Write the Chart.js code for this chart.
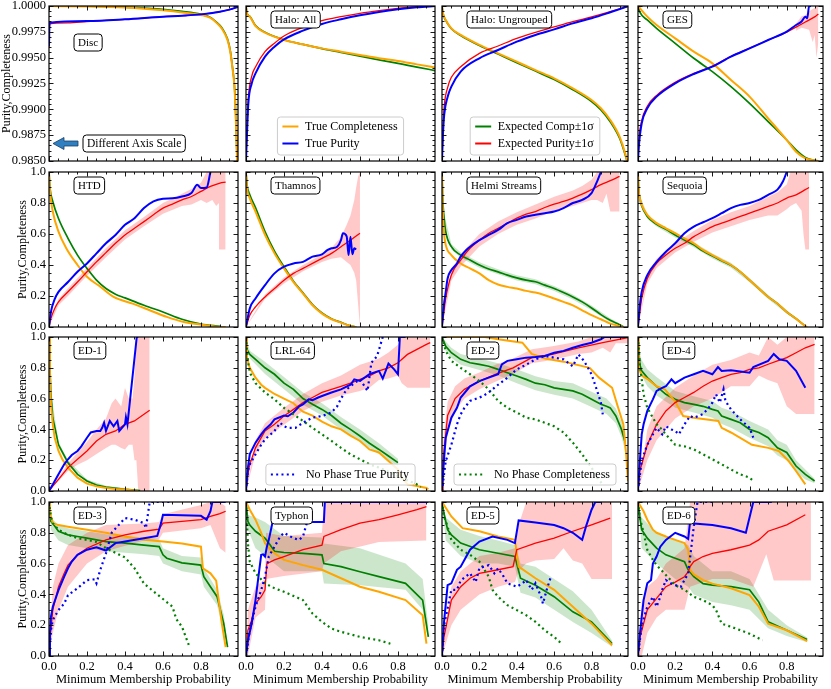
<!DOCTYPE html>
<html><head><meta charset="utf-8">
<script src="https://cdn.jsdelivr.net/npm/chart.js@4.4.0/dist/chart.umd.min.js"></script>
<style>
html,body{margin:0;padding:0;background:#fff;width:831px;height:689px;overflow:hidden;position:relative}
canvas{position:absolute}
</style></head><body>
<script>
// ---------- tick values ----------
const xMajorTicks = [0, 0.2, 0.4, 0.6, 0.8];
const xMinorTicks = [0.05,0.1,0.15,0.25,0.3,0.35,0.45,0.5,0.55,0.65,0.7,0.75,0.85,0.9,0.95];
const yMajorTicks = [0, 0.2, 0.4, 0.6, 0.8, 1.0];
const yMinorTicks = [0.05,0.1,0.15,0.25,0.3,0.35,0.45,0.5,0.55,0.65,0.7,0.75,0.85,0.9,0.95];
const yMajorTicksTop = [0.985, 0.9875, 0.99, 0.9925, 0.995, 0.9975, 1.0];
const yMinorTicksTop = [0.9855,0.986,0.9865,0.987,0.988,0.9885,0.989,0.9895,0.9905,0.991,0.9915,0.992,0.993,0.9935,0.994,0.9945,0.9955,0.996,0.9965,0.997,0.998,0.9985,0.999,0.9995];

// ---------- Disc ----------
const discOrange = [[0,1.0],[0.2,0.99995],[0.4,0.99985],[0.5,0.99974],[0.6,0.99958],[0.7,0.99938],[0.8,0.99913],[0.85,0.99885],[0.885,0.99832],[0.91,0.9978],[0.94,0.9967],[0.955,0.9955],[0.965,0.9941],[0.975,0.9925],[0.98,0.9909],[0.986,0.9877],[0.99,0.985],[0.993,0.983]];
const discGreen = [[0,1.0],[0.2,0.99998],[0.4,0.9999],[0.5,0.9998],[0.6,0.99968],[0.7,0.99948],[0.8,0.9992],[0.85,0.9989],[0.885,0.99838],[0.91,0.9979],[0.94,0.9968],[0.955,0.9956],[0.965,0.9942],[0.975,0.9926],[0.98,0.991],[0.986,0.9878],[0.99,0.985],[0.993,0.983]];
const discBlue = [[0,0.9961],[0.003,0.99839],[0.2,0.99855],[0.4,0.99871],[0.6,0.99897],[0.7,0.99906],[0.8,0.99919],[0.9,0.99945],[0.95,0.99965],[1.0,0.99994]];
const discRed = [[0,0.996],[0.003,0.99826],[0.1,0.99836],[0.2,0.99849],[0.3,0.99861],[0.4,0.99871],[0.6,0.99897],[0.7,0.99906],[0.8,0.99919],[0.9,0.99945],[0.95,0.99965],[1.0,0.99994]];

// ---------- Halo: All ----------
const haloAllOrange = [[0,1.0],[0.005,0.9993],[0.02,0.99897],[0.05,0.99806],[0.1,0.99742],[0.2,0.99671],[0.3,0.99629],[0.4,0.9959],[0.5,0.99558],[0.6,0.99526],[0.7,0.99494],[0.8,0.99468],[0.9,0.99435],[1.0,0.99403]];
const haloAllGreen = [[0,1.0],[0.005,0.9993],[0.02,0.999],[0.05,0.9981],[0.1,0.99745],[0.2,0.99673],[0.3,0.99628],[0.4,0.99588],[0.5,0.99552],[0.6,0.99515],[0.7,0.99478],[0.8,0.99445],[0.9,0.99408],[1.0,0.99374]];
const haloAllBlue = [[0,0.985],[0.005,0.9875],[0.012,0.9905],[0.03,0.9925],[0.05,0.99348],[0.1,0.9951],[0.15,0.99606],[0.2,0.99677],[0.3,0.99761],[0.4,0.99826],[0.5,0.99871],[0.6,0.9991],[0.7,0.99942],[0.8,0.99968],[0.9,0.99987],[1.0,1.0]];
const haloAllRed = [[0,0.985],[0.005,0.988],[0.012,0.991],[0.03,0.9932],[0.05,0.9941],[0.1,0.99558],[0.15,0.9964],[0.2,0.9971],[0.3,0.99794],[0.4,0.99858],[0.5,0.99897],[0.6,0.99929],[0.7,0.99955],[0.8,0.99977],[0.9,0.99994],[1.0,1.0]];

// ---------- Halo: Ungrouped ----------
const haloUngOrange = [[0,1.0],[0.005,0.9993],[0.02,0.99865],[0.05,0.99784],[0.1,0.9972],[0.2,0.99623],[0.3,0.99542],[0.4,0.99461],[0.5,0.9938],[0.6,0.993],[0.7,0.99203],[0.8,0.9909],[0.85,0.9901],[0.9,0.98897],[0.95,0.98735],[0.98,0.98574],[0.99,0.985]];
const haloUngGreen = [[0,1.0],[0.005,0.9993],[0.02,0.9986],[0.05,0.9978],[0.1,0.99715],[0.2,0.99618],[0.3,0.99535],[0.4,0.99452],[0.5,0.9937],[0.6,0.99288],[0.7,0.9919],[0.8,0.99075],[0.85,0.98995],[0.9,0.9888],[0.95,0.9872],[0.98,0.9856],[0.99,0.985]];
const haloUngBlue = [[0,0.985],[0.005,0.9875],[0.012,0.9895],[0.03,0.9912],[0.05,0.9922],[0.1,0.99365],[0.2,0.99494],[0.3,0.99574],[0.4,0.99655],[0.5,0.9972],[0.6,0.99774],[0.7,0.99832],[0.8,0.99881],[0.9,0.99939],[1.0,1.0]];
const haloUngRed = [[0,0.985],[0.005,0.988],[0.012,0.9903],[0.03,0.9921],[0.05,0.9931],[0.1,0.99413],[0.2,0.99542],[0.3,0.99613],[0.4,0.99687],[0.5,0.99745],[0.6,0.99797],[0.7,0.99848],[0.8,0.99894],[0.9,0.99945],[1.0,1.0]];

// ---------- GES ----------
const gesOrange = [[0,1.0],[0.05,0.99897],[0.1,0.99816],[0.2,0.99687],[0.3,0.99558],[0.4,0.99445],[0.5,0.99284],[0.6,0.99123],[0.7,0.98913],[0.8,0.98703],[0.85,0.9859],[0.9,0.98526],[0.95,0.98506],[0.97,0.985]];
const gesGreen = [[0,1.0],[0.01,0.9994],[0.05,0.99865],[0.1,0.99784],[0.2,0.99639],[0.3,0.99494],[0.4,0.99365],[0.5,0.9922],[0.6,0.99058],[0.7,0.98881],[0.8,0.98703],[0.85,0.98607],[0.9,0.98534],[0.95,0.98506],[0.97,0.985]];
const gesBlue = [[0,0.985],[0.005,0.9865],[0.02,0.98865],[0.05,0.9901],[0.1,0.99123],[0.2,0.99252],[0.3,0.99342],[0.4,0.99413],[0.5,0.9951],[0.6,0.9959],[0.7,0.99671],[0.8,0.99752],[0.85,0.99816],[0.88,0.9985],[0.9,0.99897],[0.91,0.9988],[0.92,0.99994],[0.93,1.0]];
const gesRed = [[0,0.985],[0.005,0.987],[0.02,0.9889],[0.05,0.9903],[0.1,0.99135],[0.2,0.99262],[0.3,0.99348],[0.4,0.99418],[0.5,0.99512],[0.6,0.99592],[0.7,0.99671],[0.8,0.99748],[0.85,0.99795],[0.9,0.99845],[0.95,0.99895],[0.97,0.99923]];
const gesRedBand = [[0.85,0.9976,0.9983],[0.88,0.9979,0.999],[0.9,0.9978,0.9991],[0.92,0.9977,0.9995],[0.94,0.9965,0.9997],[0.95,0.9972,0.9998],[0.96,0.995,1.0],[0.97,0.9965,1.0]];

// ---------- HTD ----------
const htdOrange = [[0,1.0],[0.005,0.88],[0.02,0.745],[0.05,0.615],[0.09,0.51],[0.15,0.4],[0.2,0.324],[0.27,0.26],[0.34,0.194],[0.44,0.151],[0.53,0.108],[0.62,0.065],[0.71,0.032],[0.8,0.015],[0.885,0.002],[0.93,0]];
const htdGreen = [[0,1.0],[0.005,0.9],[0.02,0.81],[0.05,0.7],[0.1,0.572],[0.15,0.464],[0.2,0.378],[0.25,0.302],[0.3,0.248],[0.35,0.212],[0.4,0.188],[0.5,0.14],[0.6,0.097],[0.7,0.05],[0.8,0.019],[0.9,0.004]];
const htdBlue = [[0,0],[0.01,0.097],[0.03,0.18],[0.05,0.227],[0.1,0.29],[0.15,0.356],[0.2,0.41],[0.25,0.475],[0.3,0.54],[0.35,0.594],[0.4,0.659],[0.45,0.702],[0.5,0.767],[0.55,0.81],[0.6,0.827],[0.65,0.83],[0.7,0.842],[0.75,0.864],[0.78,0.918],[0.8,0.896],[0.83,0.9],[0.85,1.0]];
const htdRed = [[0,0],[0.01,0.054],[0.03,0.12],[0.05,0.162],[0.1,0.227],[0.15,0.29],[0.2,0.356],[0.25,0.42],[0.3,0.48],[0.35,0.54],[0.4,0.594],[0.45,0.637],[0.5,0.68],[0.55,0.724],[0.6,0.767],[0.65,0.793],[0.7,0.82],[0.75,0.842],[0.8,0.875],[0.85,0.907],[0.9,0.929],[0.93,0.935]];
const htdRedBand = [[0,0,0],[0.05,0.14,0.18],[0.1,0.2,0.25],[0.2,0.33,0.38],[0.3,0.45,0.51],[0.4,0.565,0.625],[0.5,0.65,0.71],[0.6,0.73,0.8],[0.7,0.78,0.86],[0.75,0.79,0.89],[0.8,0.82,0.93],[0.83,0.8,1.0],[0.86,0.82,1.0],[0.88,0.78,1.0],[0.895,0.8,1.0],[0.9,0.5,1.0],[0.93,0.5,1.0]];

// ---------- Thamnos ----------
const thamOrange = [[0,1.0],[0.005,0.9],[0.02,0.83],[0.05,0.745],[0.1,0.594],[0.15,0.475],[0.2,0.378],[0.25,0.29],[0.3,0.216],[0.35,0.14],[0.4,0.086],[0.45,0.05],[0.5,0.028],[0.55,0.006],[0.58,0]];
const thamGreen = [[0,1.0],[0.005,0.92],[0.02,0.853],[0.05,0.77],[0.1,0.616],[0.15,0.49],[0.2,0.389],[0.25,0.295],[0.3,0.22],[0.35,0.145],[0.4,0.09],[0.45,0.053],[0.5,0.03],[0.55,0.008],[0.58,0.001]];
const thamBlue = [[0,0],[0.02,0.12],[0.05,0.184],[0.1,0.27],[0.15,0.346],[0.2,0.389],[0.25,0.41],[0.3,0.42],[0.35,0.454],[0.4,0.469],[0.43,0.497],[0.45,0.508],[0.48,0.518],[0.5,0.56],[0.51,0.605],[0.53,0.585],[0.54,0.464],[0.55,0.583],[0.56,0.47],[0.57,0.508],[0.58,0.5]];
const thamRed = [[0,0],[0.02,0.076],[0.05,0.13],[0.1,0.194],[0.15,0.248],[0.2,0.302],[0.25,0.346],[0.3,0.378],[0.35,0.41],[0.4,0.443],[0.45,0.475],[0.5,0.518],[0.55,0.56],[0.6,0.605]];
const thamRedBand = [[0,0,0],[0.1,0.18,0.21],[0.2,0.28,0.32],[0.3,0.36,0.4],[0.4,0.42,0.47],[0.45,0.44,0.51],[0.5,0.45,0.58],[0.53,0.42,0.66],[0.55,0.4,0.72],[0.57,0.35,0.82],[0.58,0.3,0.9],[0.59,0.15,0.97],[0.6,0,1.0]];

// ---------- Helmi Streams ----------
const helmiOrange = [[0,1.0],[0.003,0.8],[0.01,0.616],[0.02,0.53],[0.05,0.464],[0.1,0.41],[0.15,0.378],[0.2,0.346],[0.25,0.302],[0.3,0.274],[0.35,0.259],[0.4,0.248],[0.45,0.233],[0.5,0.222],[0.55,0.205],[0.6,0.184],[0.65,0.162],[0.7,0.14],[0.75,0.108],[0.8,0.076],[0.85,0.05],[0.9,0.022],[0.95,0.006],[0.97,0]];
const helmiGreen = [[0,1.0],[0.003,0.85],[0.01,0.72],[0.02,0.616],[0.05,0.518],[0.1,0.464],[0.15,0.432],[0.2,0.4],[0.25,0.374],[0.3,0.356],[0.35,0.335],[0.4,0.317],[0.45,0.302],[0.5,0.292],[0.55,0.27],[0.6,0.248],[0.65,0.222],[0.7,0.194],[0.75,0.162],[0.8,0.123],[0.85,0.08],[0.9,0.043],[0.95,0.015],[0.97,0.002]];
const helmiGreenBand = [[0.01,0.7,0.74],[0.05,0.5,0.535],[0.1,0.447,0.48],[0.2,0.383,0.417],[0.3,0.34,0.372],[0.4,0.3,0.334],[0.5,0.276,0.308],[0.6,0.232,0.264],[0.7,0.178,0.21],[0.8,0.108,0.138],[0.9,0.03,0.056],[0.97,0,0.006]];
const helmiBlue = [[0,0],[0.01,0.14],[0.02,0.227],[0.03,0.313],[0.05,0.367],[0.08,0.41],[0.1,0.454],[0.13,0.497],[0.15,0.518],[0.2,0.56],[0.25,0.594],[0.3,0.626],[0.35,0.67],[0.4,0.691],[0.45,0.713],[0.5,0.724],[0.55,0.734],[0.6,0.745],[0.65,0.767],[0.7,0.8],[0.75,0.82],[0.8,0.864],[0.83,0.94],[0.85,1.0]];
const helmiRed = [[0,0],[0.01,0.097],[0.02,0.184],[0.05,0.335],[0.1,0.432],[0.15,0.508],[0.2,0.56],[0.25,0.605],[0.3,0.637],[0.35,0.67],[0.4,0.702],[0.45,0.728],[0.5,0.745],[0.55,0.771],[0.6,0.793],[0.65,0.81],[0.7,0.832],[0.75,0.857],[0.8,0.886],[0.85,0.918],[0.9,0.944],[0.95,0.972]];
const helmiRedBand = [[0,0,0],[0.05,0.3,0.37],[0.1,0.39,0.47],[0.2,0.52,0.6],[0.3,0.6,0.68],[0.4,0.66,0.74],[0.5,0.7,0.79],[0.6,0.75,0.84],[0.7,0.78,0.88],[0.75,0.8,0.91],[0.8,0.82,0.95],[0.83,0.82,1.0],[0.86,0.8,1.0],[0.88,0.86,1.0],[0.9,0.745,1.0],[0.95,0.745,1.0]];

// ---------- Sequoia ----------
const seqOrange = [[0,1.0],[0.003,0.9],[0.01,0.83],[0.02,0.788],[0.05,0.724],[0.1,0.67],[0.15,0.637],[0.2,0.605],[0.25,0.572],[0.3,0.54],[0.35,0.497],[0.4,0.464],[0.45,0.432],[0.5,0.4],[0.55,0.356],[0.6,0.302],[0.65,0.248],[0.7,0.194],[0.75,0.151],[0.8,0.097],[0.85,0.054],[0.9,0.006],[0.91,0]];
const seqGreen = [[0,1.0],[0.003,0.9],[0.01,0.83],[0.02,0.78],[0.05,0.713],[0.1,0.663],[0.15,0.63],[0.2,0.594],[0.25,0.562],[0.3,0.53],[0.35,0.49],[0.4,0.458],[0.45,0.428],[0.5,0.398],[0.55,0.356],[0.6,0.302],[0.65,0.248],[0.7,0.194],[0.75,0.151],[0.8,0.097],[0.85,0.054],[0.9,0.006]];
const seqGreenBand = [[0.01,0.81,0.85],[0.05,0.698,0.728],[0.1,0.648,0.678],[0.2,0.578,0.61],[0.3,0.514,0.546],[0.4,0.442,0.474],[0.5,0.382,0.414],[0.6,0.288,0.316],[0.7,0.18,0.208],[0.8,0.085,0.109],[0.9,0,0.012]];
const seqBlue = [[0,0],[0.01,0.14],[0.02,0.227],[0.05,0.335],[0.1,0.42],[0.15,0.486],[0.2,0.54],[0.25,0.605],[0.3,0.648],[0.35,0.676],[0.4,0.702],[0.45,0.734],[0.5,0.767],[0.55,0.788],[0.6,0.8],[0.65,0.82],[0.7,0.853],[0.75,0.886],[0.78,0.94],[0.8,1.0]];
const seqRed = [[0,0],[0.01,0.097],[0.02,0.184],[0.05,0.313],[0.1,0.41],[0.15,0.464],[0.2,0.508],[0.25,0.54],[0.3,0.583],[0.35,0.616],[0.4,0.648],[0.45,0.67],[0.5,0.691],[0.55,0.713],[0.6,0.734],[0.65,0.756],[0.7,0.778],[0.75,0.8],[0.8,0.832],[0.85,0.853],[0.9,0.886],[0.92,0.9]];
const seqRedBand = [[0,0,0],[0.05,0.28,0.34],[0.1,0.38,0.44],[0.2,0.48,0.54],[0.3,0.55,0.62],[0.4,0.61,0.69],[0.5,0.65,0.74],[0.6,0.69,0.78],[0.7,0.72,0.84],[0.75,0.72,0.87],[0.8,0.76,0.92],[0.82,0.78,1.0],[0.85,0.8,1.0],[0.88,0.75,1.0],[0.89,0.6,1.0],[0.9,0.5,1.0],[0.92,0.5,1.0]];

// ---------- ED-1 ----------
const ed1Orange = [[0,1.0],[0.005,0.736],[0.01,0.563],[0.02,0.433],[0.03,0.346],[0.05,0.26],[0.07,0.206],[0.1,0.152],[0.15,0.087],[0.2,0.048],[0.25,0.03],[0.3,0.019],[0.35,0.013],[0.4,0.009],[0.45,0.004],[0.47,0]];
const ed1Green = [[0,1.0],[0.005,0.8],[0.01,0.63],[0.02,0.476],[0.05,0.3],[0.1,0.184],[0.15,0.108],[0.2,0.065],[0.25,0.039],[0.3,0.026],[0.4,0.011],[0.48,0.003]];
const ed1GreenBand = [[0.01,0.61,0.65],[0.05,0.28,0.32],[0.1,0.17,0.2],[0.2,0.055,0.075],[0.3,0.018,0.034],[0.48,0,0.006]];
const ed1Blue = [[0,0],[0.02,0.043],[0.05,0.108],[0.08,0.173],[0.1,0.206],[0.12,0.234],[0.15,0.26],[0.17,0.29],[0.2,0.346],[0.22,0.38],[0.25,0.39],[0.27,0.39],[0.28,0.41],[0.29,0.443],[0.3,0.39],[0.32,0.455],[0.34,0.42],[0.36,0.455],[0.37,0.39],[0.4,0.433],[0.405,0.48],[0.413,0.433],[0.462,1.0],[0.47,1.0]];
const ed1Red = [[0,0],[0.02,0.032],[0.05,0.076],[0.1,0.152],[0.15,0.206],[0.2,0.26],[0.25,0.325],[0.3,0.368],[0.35,0.39],[0.4,0.433],[0.45,0.455],[0.5,0.498],[0.53,0.524]];
const ed1RedBand = [[0,0,0],[0.1,0.13,0.18],[0.15,0.17,0.25],[0.2,0.2,0.32],[0.25,0.24,0.4],[0.3,0.28,0.47],[0.33,0.3,0.57],[0.35,0.3,0.6],[0.38,0.28,0.55],[0.4,0.27,0.67],[0.42,0.3,0.6],[0.44,0.3,0.6],[0.45,0.2,0.75],[0.46,0.2,1.0],[0.47,0,1.0],[0.53,0,1.0]];

// ---------- LRL-64 ----------
const lrlOrange = [[0,1.0],[0.005,0.87],[0.015,0.82],[0.02,0.8],[0.05,0.736],[0.08,0.69],[0.1,0.67],[0.15,0.63],[0.2,0.6],[0.25,0.57],[0.28,0.536],[0.3,0.515],[0.35,0.49],[0.4,0.45],[0.45,0.42],[0.5,0.4],[0.55,0.36],[0.6,0.325],[0.65,0.27],[0.7,0.25],[0.75,0.195],[0.8,0.14],[0.82,0.087],[0.85,0.043],[0.9,0.032],[0.95,0.02],[0.96,0.011]];
const lrlGreen = [[0,1.0],[0.005,0.92],[0.02,0.887],[0.05,0.855],[0.1,0.8],[0.15,0.758],[0.2,0.7],[0.25,0.66],[0.3,0.6],[0.35,0.563],[0.4,0.53],[0.45,0.49],[0.5,0.44],[0.55,0.4],[0.6,0.357],[0.65,0.31],[0.7,0.27],[0.75,0.227],[0.8,0.184]];
const lrlGreenBand = [[0,1,1],[0.02,0.86,0.91],[0.1,0.76,0.84],[0.2,0.66,0.74],[0.3,0.56,0.64],[0.4,0.49,0.57],[0.5,0.4,0.48],[0.6,0.32,0.4],[0.7,0.24,0.31],[0.8,0.16,0.21]];
const lrlBlue = [[0,0],[0.01,0.15],[0.02,0.24],[0.05,0.314],[0.08,0.368],[0.1,0.4],[0.13,0.433],[0.15,0.465],[0.2,0.49],[0.22,0.485],[0.25,0.51],[0.28,0.55],[0.3,0.563],[0.33,0.595],[0.35,0.59],[0.38,0.607],[0.4,0.617],[0.45,0.64],[0.5,0.66],[0.55,0.69],[0.57,0.725],[0.6,0.715],[0.65,0.758],[0.7,0.78],[0.72,0.73],[0.75,0.827],[0.78,0.79],[0.8,0.758],[0.81,1.0],[0.84,1.0]];
const lrlRed = [[0,0],[0.01,0.11],[0.02,0.173],[0.05,0.28],[0.1,0.39],[0.15,0.433],[0.2,0.487],[0.25,0.53],[0.3,0.574],[0.35,0.607],[0.4,0.64],[0.45,0.66],[0.5,0.68],[0.55,0.7],[0.6,0.725],[0.65,0.747],[0.7,0.78],[0.75,0.8],[0.8,0.833],[0.85,0.887],[0.9,0.92],[0.95,0.952],[0.97,0.963]];
const lrlRedBand = [[0,0,0],[0.05,0.24,0.33],[0.1,0.34,0.44],[0.2,0.43,0.54],[0.3,0.52,0.63],[0.4,0.58,0.7],[0.5,0.62,0.75],[0.6,0.65,0.82],[0.65,0.67,0.84],[0.7,0.72,0.86],[0.75,0.73,0.9],[0.8,0.75,0.95],[0.82,0.7,1.0],[0.85,0.67,1.0],[0.97,0.67,1.0]];
const lrlBlueDot = [[0,0],[0.01,0.13],[0.02,0.173],[0.05,0.238],[0.08,0.3],[0.1,0.335],[0.15,0.39],[0.18,0.443],[0.2,0.42],[0.22,0.41],[0.26,0.41],[0.3,0.443],[0.35,0.476],[0.4,0.487],[0.45,0.51],[0.48,0.55],[0.5,0.6],[0.53,0.66],[0.57,0.7],[0.6,0.725],[0.64,0.65],[0.66,0.833],[0.69,0.876],[0.72,1.0]];
const lrlGreenDot = [[0,1],[0.01,0.845],[0.02,0.77],[0.05,0.7],[0.1,0.64],[0.15,0.595],[0.2,0.54],[0.25,0.498],[0.3,0.455],[0.35,0.41],[0.4,0.368],[0.45,0.325],[0.5,0.28],[0.55,0.238],[0.6,0.206],[0.65,0.173],[0.7,0.152],[0.75,0.125],[0.8,0.097],[0.85,0.069],[0.9,0.043],[0.92,0.026]];

// ---------- ED-2 ----------
const ed2Orange = [[0,1.0],[0.23,1.0],[0.3,0.985],[0.43,0.963],[0.48,0.89],[0.55,0.86],[0.65,0.84],[0.79,0.8],[0.84,0.736],[0.91,0.67],[0.94,0.55],[0.97,0.433],[0.985,0.24],[0.995,0.065]];
const ed2Green = [[0,1.0],[0.02,0.94],[0.05,0.898],[0.1,0.855],[0.15,0.833],[0.2,0.822],[0.25,0.81],[0.3,0.79],[0.35,0.768],[0.4,0.747],[0.45,0.725],[0.5,0.7],[0.55,0.69],[0.6,0.67],[0.65,0.66],[0.7,0.65],[0.75,0.628],[0.8,0.595],[0.85,0.563],[0.88,0.55],[0.9,0.54],[0.93,0.487],[0.96,0.4],[0.98,0.314]];
const ed2GreenBand = [[0,1,1],[0.02,0.91,0.97],[0.05,0.865,0.93],[0.1,0.82,0.89],[0.2,0.785,0.86],[0.3,0.75,0.83],[0.4,0.7,0.79],[0.5,0.655,0.745],[0.6,0.625,0.715],[0.7,0.6,0.7],[0.8,0.545,0.645],[0.88,0.5,0.6],[0.93,0.44,0.535],[0.96,0.35,0.45],[0.98,0.26,0.37]];
const ed2Blue = [[0,0],[0.01,0.195],[0.02,0.346],[0.05,0.476],[0.08,0.54],[0.1,0.607],[0.15,0.68],[0.2,0.714],[0.25,0.736],[0.3,0.758],[0.32,0.822],[0.35,0.845],[0.4,0.855],[0.45,0.866],[0.5,0.87],[0.55,0.877],[0.6,0.898],[0.65,0.91],[0.7,0.93],[0.75,0.948],[0.8,0.963],[0.85,0.985],[0.87,1.0],[0.99,1.0]];
const ed2Red = [[0,0],[0.005,0.19],[0.03,0.49],[0.07,0.6],[0.12,0.66],[0.2,0.714],[0.285,0.758],[0.38,0.8],[0.48,0.866],[0.59,0.887],[0.73,0.93],[0.86,0.963],[0.995,0.996]];
const ed2RedBand = [[0,0,0],[0.005,0.1,0.3],[0.03,0.38,0.58],[0.07,0.52,0.68],[0.12,0.6,0.73],[0.2,0.66,0.77],[0.285,0.71,0.82],[0.38,0.76,0.86],[0.48,0.83,0.92],[0.59,0.85,0.94],[0.73,0.89,0.97],[0.8,0.9,1.0],[0.86,0.93,1.0],[0.9,0.9,1.0],[0.93,0.96,1.0],[0.995,0.96,1.0]];
const ed2BlueDot = [[0,0],[0.02,0.195],[0.05,0.3],[0.08,0.433],[0.1,0.498],[0.12,0.54],[0.15,0.585],[0.2,0.607],[0.22,0.617],[0.25,0.64],[0.3,0.69],[0.35,0.736],[0.4,0.79],[0.45,0.82],[0.5,0.855],[0.55,0.877],[0.6,0.866],[0.65,0.855],[0.7,0.81],[0.73,0.887],[0.76,0.845],[0.8,0.758],[0.83,0.65],[0.85,0.574],[0.86,0.498]];
const ed2GreenDot = [[0,1],[0.01,0.96],[0.02,0.91],[0.05,0.845],[0.1,0.8],[0.15,0.758],[0.2,0.714],[0.25,0.66],[0.3,0.585],[0.35,0.54],[0.4,0.51],[0.45,0.476],[0.5,0.465],[0.55,0.443],[0.6,0.42],[0.65,0.38],[0.7,0.314],[0.75,0.238],[0.8,0.152],[0.83,0.087],[0.86,0.043]];

// ---------- ED-4 ----------
const ed4Orange = [[0,1.0],[0.004,0.8],[0.02,0.75],[0.054,0.725],[0.1,0.68],[0.144,0.66],[0.198,0.584],[0.243,0.487],[0.3,0.476],[0.35,0.468],[0.432,0.455],[0.45,0.41],[0.5,0.38],[0.613,0.3],[0.7,0.28],[0.757,0.26],[0.81,0.195],[0.85,0.13],[0.9,0.043]];
const ed4Green = [[0,1.0],[0.01,0.82],[0.02,0.78],[0.05,0.736],[0.1,0.68],[0.15,0.628],[0.2,0.595],[0.25,0.574],[0.3,0.563],[0.35,0.55],[0.4,0.53],[0.43,0.52],[0.45,0.487],[0.5,0.465],[0.55,0.443],[0.6,0.4],[0.65,0.38],[0.7,0.346],[0.75,0.28],[0.8,0.25],[0.85,0.162],[0.9,0.108],[0.95,0.065]];
const ed4GreenBand = [[0,1,1],[0.01,0.77,0.87],[0.05,0.68,0.79],[0.1,0.62,0.74],[0.2,0.54,0.65],[0.3,0.51,0.615],[0.4,0.475,0.585],[0.45,0.435,0.54],[0.5,0.41,0.52],[0.6,0.345,0.455],[0.7,0.29,0.4],[0.75,0.23,0.33],[0.8,0.2,0.3],[0.85,0.12,0.2],[0.9,0.075,0.14],[0.95,0.05,0.08]];
const ed4Blue = [[0,0],[0.01,0.195],[0.02,0.368],[0.03,0.433],[0.05,0.52],[0.08,0.595],[0.1,0.65],[0.13,0.67],[0.15,0.68],[0.18,0.725],[0.2,0.7],[0.25,0.736],[0.3,0.758],[0.35,0.78],[0.4,0.758],[0.43,0.805],[0.45,0.78],[0.5,0.784],[0.6,0.768],[0.62,0.805],[0.7,0.845],[0.73,0.89],[0.76,0.855],[0.8,0.845],[0.85,0.78],[0.9,0.67]];
const ed4Red = [[0,0],[0.01,0.13],[0.05,0.3],[0.1,0.433],[0.15,0.52],[0.2,0.574],[0.25,0.607],[0.3,0.64],[0.35,0.68],[0.4,0.714],[0.45,0.736],[0.5,0.758],[0.55,0.768],[0.6,0.79],[0.65,0.8],[0.7,0.823],[0.75,0.845],[0.8,0.866],[0.85,0.898],[0.9,0.93],[0.95,0.952]];
const ed4RedBand = [[0,0,0],[0.05,0.2,0.4],[0.1,0.33,0.55],[0.2,0.47,0.67],[0.3,0.55,0.75],[0.4,0.6,0.82],[0.5,0.68,0.85],[0.6,0.68,0.9],[0.65,0.75,0.88],[0.7,0.72,1.0],[0.75,0.7,0.95],[0.8,0.55,1.0],[0.85,0.5,1.0],[0.95,0.5,1.0]];
const ed4BlueDot = [[0,0],[0.02,0.2],[0.05,0.3],[0.08,0.368],[0.1,0.41],[0.13,0.368],[0.15,0.42],[0.18,0.4],[0.2,0.39],[0.22,0.368],[0.25,0.433],[0.28,0.487],[0.3,0.476],[0.35,0.5],[0.38,0.54],[0.4,0.574],[0.42,0.628],[0.44,0.574],[0.46,0.66],[0.47,0.585],[0.5,0.53],[0.55,0.465],[0.6,0.41],[0.62,0.346]];
const ed4GreenDot = [[0,1],[0.01,0.82],[0.03,0.628],[0.05,0.54],[0.08,0.476],[0.1,0.433],[0.12,0.41],[0.15,0.368],[0.2,0.3],[0.25,0.29],[0.3,0.27],[0.35,0.238],[0.4,0.206],[0.45,0.173],[0.5,0.14],[0.55,0.108],[0.6,0.087],[0.62,0.065]];

// ---------- ED-3 ----------
const ed3Orange = [[0,1.0],[0.005,0.95],[0.01,0.906],[0.02,0.863],[0.05,0.85],[0.1,0.84],[0.2,0.82],[0.3,0.8],[0.4,0.776],[0.5,0.755],[0.6,0.743],[0.7,0.73],[0.8,0.71],[0.81,0.57],[0.85,0.537],[0.88,0.49],[0.91,0.21],[0.93,0.058]];
const ed3Green = [[0,1.0],[0.005,0.93],[0.01,0.874],[0.02,0.86],[0.05,0.81],[0.1,0.787],[0.15,0.776],[0.2,0.765],[0.3,0.743],[0.4,0.733],[0.5,0.72],[0.58,0.71],[0.6,0.657],[0.62,0.635],[0.7,0.605],[0.8,0.59],[0.815,0.515],[0.85,0.45],[0.885,0.385],[0.92,0.21],[0.94,0.058]];
const ed3GreenBand = [[0,1,1],[0.01,0.82,0.9],[0.05,0.75,0.85],[0.1,0.72,0.83],[0.2,0.7,0.81],[0.3,0.68,0.79],[0.4,0.67,0.78],[0.5,0.66,0.77],[0.58,0.65,0.76],[0.6,0.6,0.7],[0.7,0.55,0.65],[0.8,0.53,0.64],[0.815,0.45,0.57],[0.85,0.39,0.5],[0.885,0.33,0.43],[0.92,0.15,0.27],[0.94,0.04,0.08]];
const ed3Blue = [[0,0],[0.005,0.15],[0.01,0.254],[0.02,0.32],[0.05,0.428],[0.08,0.515],[0.1,0.57],[0.12,0.613],[0.15,0.657],[0.2,0.69],[0.25,0.706],[0.3,0.685],[0.35,0.733],[0.4,0.743],[0.5,0.765],[0.57,0.78],[0.59,0.863],[0.6,0.917],[0.8,0.91],[0.83,0.885],[0.85,0.94],[0.86,1.0],[0.93,1.0]];
const ed3Red = [[0,0],[0.005,0.12],[0.01,0.167],[0.02,0.3],[0.05,0.45],[0.08,0.537],[0.1,0.59],[0.15,0.657],[0.2,0.7],[0.3,0.754],[0.4,0.787],[0.5,0.81],[0.58,0.824],[0.6,0.863],[0.7,0.874],[0.8,0.885],[0.85,0.906],[0.9,0.924],[0.93,0.94]];
const ed3RedBand = [[0,0,0],[0.02,0.15,0.45],[0.05,0.3,0.6],[0.1,0.45,0.72],[0.2,0.6,0.8],[0.3,0.68,0.85],[0.5,0.75,0.86],[0.58,0.76,0.87],[0.6,0.8,0.92],[0.8,0.83,0.98],[0.85,0.85,1.0],[0.9,0.7,1.0],[0.93,0.67,0.97]];
const ed3BlueDot = [[0,0],[0.01,0.167],[0.02,0.233],[0.05,0.298],[0.08,0.34],[0.1,0.395],[0.15,0.44],[0.2,0.493],[0.24,0.498],[0.25,0.472],[0.27,0.56],[0.3,0.667],[0.33,0.8],[0.4,0.896],[0.45,0.885],[0.5,0.863],[0.51,0.83],[0.53,1.0],[0.65,1.0]];
const ed3GreenDot = [[0,1],[0.01,0.906],[0.02,0.863],[0.05,0.82],[0.1,0.787],[0.15,0.765],[0.2,0.754],[0.25,0.74],[0.3,0.7],[0.4,0.64],[0.45,0.57],[0.5,0.47],[0.55,0.42],[0.6,0.37],[0.65,0.32],[0.67,0.24],[0.7,0.19],[0.72,0.124],[0.74,0.058]];

// ---------- Typhon ----------
const typhonOrange = [[0,1.0],[0.02,0.95],[0.05,0.885],[0.08,0.8],[0.1,0.733],[0.13,0.69],[0.15,0.667],[0.2,0.624],[0.3,0.59],[0.4,0.56],[0.5,0.505],[0.6,0.45],[0.7,0.417],[0.84,0.363],[0.93,0.265],[0.95,0.08]];
const typhonGreen = [[0,1.0],[0.01,0.874],[0.02,0.85],[0.05,0.81],[0.1,0.765],[0.12,0.733],[0.15,0.68],[0.2,0.672],[0.3,0.667],[0.4,0.657],[0.41,0.6],[0.5,0.58],[0.6,0.547],[0.7,0.515],[0.84,0.472],[0.93,0.363],[0.96,0.124]];
const typhonGreenBand = [[0,0.85,0.92],[0.05,0.7,0.9],[0.1,0.65,0.87],[0.2,0.55,0.78],[0.4,0.55,0.77],[0.41,0.47,0.73],[0.6,0.46,0.7],[0.84,0.43,0.6],[0.93,0.3,0.5],[0.96,0.1,0.2]];
const typhonBlue = [[0,0],[0.01,0.1],[0.03,0.21],[0.05,0.363],[0.07,0.56],[0.08,0.657],[0.09,0.66],[0.1,0.646],[0.11,0.71],[0.12,0.754],[0.14,0.87],[0.41,0.87],[0.415,1.0],[0.96,1.0]];
const typhonRed = [[0,0],[0.01,0.167],[0.03,0.233],[0.05,0.34],[0.08,0.385],[0.1,0.428],[0.11,0.6],[0.15,0.624],[0.2,0.646],[0.3,0.69],[0.4,0.72],[0.41,0.776],[0.5,0.82],[0.6,0.863],[0.7,0.885],[0.8,0.917],[0.9,0.95],[0.95,0.97]];
const typhonRedBand = [[0,0,0],[0.01,0,0.3],[0.05,0.25,0.45],[0.1,0.3,0.5],[0.105,0.5,0.8],[0.2,0.52,0.78],[0.4,0.55,0.8],[0.41,0.6,1.0],[0.5,0.68,1.0],[0.7,0.74,1.0],[0.95,0.75,1.0]];
const typhonBlueDot = [[0,0],[0.02,0.167],[0.05,0.32],[0.08,0.428],[0.1,0.515],[0.12,0.646],[0.15,0.71],[0.18,0.776],[0.2,0.8],[0.25,0.765],[0.28,0.754],[0.3,0.776],[0.32,0.863],[0.33,0.97]];
const typhonGreenDot = [[0,1],[0.01,0.733],[0.02,0.613],[0.05,0.537],[0.1,0.472],[0.15,0.44],[0.2,0.417],[0.3,0.363],[0.35,0.276],[0.4,0.222],[0.45,0.178],[0.5,0.157],[0.6,0.124],[0.7,0.102],[0.76,0.08]];

// ---------- ED-5 ----------
const ed5Orange = [[0,1.0],[0.05,0.906],[0.11,0.83],[0.2,0.81],[0.3,0.776],[0.39,0.754],[0.41,0.58],[0.5,0.505],[0.6,0.43],[0.7,0.32],[0.8,0.21],[0.91,0.07]];
const ed5Green = [[0,1.0],[0.01,0.93],[0.03,0.82],[0.05,0.787],[0.1,0.733],[0.2,0.69],[0.3,0.667],[0.39,0.646],[0.42,0.505],[0.5,0.46],[0.6,0.385],[0.7,0.287],[0.8,0.222],[0.91,0.08]];
const ed5GreenBand = [[0,1,1],[0.02,0.75,0.9],[0.1,0.65,0.82],[0.2,0.6,0.78],[0.3,0.6,0.75],[0.39,0.58,0.72],[0.42,0.41,0.6],[0.5,0.38,0.58],[0.6,0.3,0.5],[0.7,0.22,0.42],[0.8,0.15,0.3],[0.91,0.06,0.1]];
const ed5Blue = [[0,0],[0.01,0.21],[0.03,0.46],[0.05,0.472],[0.08,0.56],[0.1,0.58],[0.15,0.69],[0.2,0.743],[0.27,0.776],[0.35,0.754],[0.39,0.733],[0.41,0.88],[0.5,0.867],[0.6,0.85],[0.65,0.83],[0.7,0.8],[0.75,0.754],[0.77,0.84],[0.8,0.95],[0.82,1.0],[0.85,1.0]];
const ed5Red = [[0,0],[0.01,0.12],[0.05,0.363],[0.1,0.45],[0.15,0.505],[0.2,0.537],[0.3,0.56],[0.38,0.58],[0.4,0.69],[0.5,0.733],[0.6,0.765],[0.7,0.81],[0.8,0.852],[0.9,0.896]];
const ed5RedBand = [[0,0,0],[0.05,0.2,0.45],[0.1,0.3,0.55],[0.2,0.4,0.65],[0.3,0.45,0.67],[0.39,0.48,0.7],[0.41,0.55,0.85],[0.45,0.6,1.0],[0.5,0.62,1.0],[0.6,0.63,1.0],[0.65,0.7,1.0],[0.7,0.62,1.0],[0.75,0.6,1.0],[0.8,0.5,1.0],[0.91,0.5,1.0]];
const ed5BlueDot = [[0,0],[0.01,0.19],[0.05,0.43],[0.08,0.43],[0.1,0.49],[0.15,0.537],[0.18,0.48],[0.2,0.57],[0.25,0.59],[0.28,0.537],[0.3,0.57],[0.33,0.515],[0.35,0.472],[0.4,0.45],[0.43,0.472],[0.45,0.493],[0.48,0.43],[0.5,0.472],[0.53,0.385],[0.54,0.34],[0.56,0.43],[0.58,0.505]];
const ed5GreenDot = [[0,1],[0.01,0.91],[0.03,0.84],[0.05,0.754],[0.1,0.69],[0.15,0.657],[0.2,0.613],[0.25,0.515],[0.27,0.43],[0.3,0.385],[0.35,0.33],[0.4,0.298],[0.45,0.265],[0.5,0.222],[0.55,0.167],[0.6,0.124],[0.64,0.08]];

// ---------- ED-6 ----------
const ed6Orange = [[0,1.0],[0.03,0.94],[0.05,0.885],[0.08,0.82],[0.1,0.8],[0.15,0.776],[0.2,0.754],[0.25,0.733],[0.27,0.69],[0.28,0.56],[0.3,0.53],[0.35,0.493],[0.4,0.47],[0.5,0.44],[0.6,0.395],[0.65,0.32],[0.7,0.21],[0.8,0.167],[0.91,0.096]];
const ed6Green = [[0,1.0],[0.01,0.9],[0.02,0.82],[0.05,0.765],[0.1,0.7],[0.15,0.657],[0.2,0.635],[0.25,0.613],[0.27,0.56],[0.3,0.515],[0.35,0.47],[0.4,0.46],[0.5,0.45],[0.6,0.43],[0.65,0.35],[0.7,0.222],[0.8,0.167],[0.91,0.107]];
const ed6GreenBand = [[0,1,1],[0.02,0.7,0.9],[0.1,0.6,0.8],[0.2,0.5,0.75],[0.27,0.45,0.72],[0.3,0.4,0.65],[0.4,0.35,0.55],[0.5,0.33,0.55],[0.6,0.3,0.5],[0.7,0.18,0.3],[0.8,0.13,0.2],[0.91,0.09,0.12]];
const ed6Blue = [[0,0],[0.01,0.14],[0.02,0.254],[0.03,0.363],[0.05,0.472],[0.07,0.493],[0.08,0.6],[0.1,0.646],[0.12,0.71],[0.15,0.754],[0.2,0.8],[0.25,0.776],[0.27,0.76],[0.28,0.87],[0.3,0.86],[0.4,0.85],[0.5,0.83],[0.58,0.8],[0.62,1.0],[0.72,1.0]];
const ed6Red = [[0,0],[0.01,0.12],[0.05,0.3],[0.1,0.374],[0.15,0.45],[0.2,0.48],[0.25,0.515],[0.27,0.547],[0.28,0.58],[0.3,0.613],[0.35,0.646],[0.4,0.667],[0.5,0.69],[0.6,0.72],[0.65,0.754],[0.7,0.81],[0.8,0.852],[0.9,0.917]];
const ed6RedBand = [[0,0,0],[0.02,0,0.35],[0.05,0.15,0.45],[0.1,0.25,0.5],[0.15,0.3,0.6],[0.2,0.3,0.65],[0.25,0.3,0.7],[0.28,0.45,1.0],[0.4,0.5,1.0],[0.5,0.5,1.0],[0.62,0.45,1.0],[0.69,0.66,1.0],[0.73,0.49,1.0],[0.93,0.49,1.0]];
const ed6BlueDot = [[0,0],[0.02,0.2],[0.05,0.32],[0.08,0.385],[0.1,0.32],[0.12,0.385],[0.13,0.43],[0.15,0.493],[0.18,0.47],[0.2,0.46],[0.23,0.45],[0.25,0.493],[0.27,0.537],[0.28,0.635],[0.3,0.84],[0.32,1.0],[0.4,1.0]];
const ed6GreenDot = [[0,1],[0.01,0.9],[0.03,0.8],[0.05,0.69],[0.08,0.624],[0.1,0.59],[0.15,0.526],[0.2,0.46],[0.25,0.43],[0.3,0.385],[0.35,0.363],[0.4,0.33],[0.42,0.298],[0.45,0.21],[0.5,0.19],[0.6,0.145],[0.67,0.102]];

// ---------- layout / style ----------
const FONT = "'Liberation Serif', 'Times New Roman', Times, serif";
const C_OR = '#FFA500', C_BL = '#0000FF', C_RD = '#FF0000', C_GR = '#008000';
const R_BAND = 'rgba(255,0,0,0.21)', G_BAND = 'rgba(0,128,0,0.2)';
const COLS = [[49,238],[246,435],[442,628],[638,823]];
const ROWS = [[6,161],[172,327],[337,491],[502,656]];

const panels = [
  {name:'Disc', r:0, c:0, lt:28, green:discGreen, orange:discOrange, red:discRed, blue:discBlue, note:true},
  {name:'Halo: All', r:0, c:1, green:haloAllGreen, orange:haloAllOrange, red:haloAllRed, blue:haloAllBlue,
    legend:{hs:5, he:21, ts:27.6, items:[[C_OR,false,'True Completeness'],[C_BL,false,'True Purity']]}},
  {name:'Halo: Ungrouped', r:0, c:2, green:haloUngGreen, orange:haloUngOrange, red:haloUngRed, blue:haloUngBlue,
    legend:{hs:5, he:21, ts:27.6, items:[[C_GR,false,'Expected Comp\u00b11\u03c3'],[C_RD,false,'Expected Purity\u00b11\u03c3']]}},
  {name:'GES', r:0, c:3, rband:gesRedBand, green:gesGreen, orange:gesOrange, red:gesRed, blue:gesBlue},
  {name:'HTD', r:1, c:0, rband:htdRedBand, green:htdGreen, orange:htdOrange, red:htdRed, blue:htdBlue},
  {name:'Thamnos', r:1, c:1, rband:thamRedBand, green:thamGreen, orange:thamOrange, red:thamRed, blue:thamBlue},
  {name:'Helmi Streams', r:1, c:2, gband:helmiGreenBand, rband:helmiRedBand, green:helmiGreen, orange:helmiOrange, red:helmiRed, blue:helmiBlue},
  {name:'Sequoia', r:1, c:3, gband:seqGreenBand, rband:seqRedBand, green:seqGreen, orange:seqOrange, red:seqRed, blue:seqBlue},
  {name:'ED-1', r:2, c:0, gband:ed1GreenBand, rband:ed1RedBand, green:ed1Green, orange:ed1Orange, red:ed1Red, blue:ed1Blue},
  {name:'LRL-64', r:2, c:1, gband:lrlGreenBand, rband:lrlRedBand, green:lrlGreen, orange:lrlOrange, red:lrlRed, blue:lrlBlue, gdot:lrlGreenDot, bdot:lrlBlueDot,
    legend:{hs:5, he:30, ts:40, items:[[C_BL,true,'No Phase True Purity']]}},
  {name:'ED-2', r:2, c:2, gband:ed2GreenBand, rband:ed2RedBand, green:ed2Green, orange:ed2Orange, red:ed2Red, blue:ed2Blue, gdot:ed2GreenDot, bdot:ed2BlueDot,
    legend:{hs:5, he:30, ts:40, items:[[C_GR,true,'No Phase Completeness']]}},
  {name:'ED-4', r:2, c:3, gband:ed4GreenBand, rband:ed4RedBand, green:ed4Green, orange:ed4Orange, red:ed4Red, blue:ed4Blue, gdot:ed4GreenDot, bdot:ed4BlueDot},
  {name:'ED-3', r:3, c:0, gband:ed3GreenBand, rband:ed3RedBand, green:ed3Green, orange:ed3Orange, red:ed3Red, blue:ed3Blue, gdot:ed3GreenDot, bdot:ed3BlueDot},
  {name:'Typhon', r:3, c:1, gband:typhonGreenBand, rband:typhonRedBand, green:typhonGreen, orange:typhonOrange, red:typhonRed, blue:typhonBlue, gdot:typhonGreenDot, bdot:typhonBlueDot},
  {name:'ED-5', r:3, c:2, gband:ed5GreenBand, rband:ed5RedBand, green:ed5Green, orange:ed5Orange, red:ed5Red, blue:ed5Blue, gdot:ed5GreenDot, bdot:ed5BlueDot},
  {name:'ED-6', r:3, c:3, gband:ed6GreenBand, rband:ed6RedBand, green:ed6Green, orange:ed6Orange, red:ed6Red, blue:ed6Blue, gdot:ed6GreenDot, bdot:ed6BlueDot},
];

function roundRect(ctx, x, y, w, h, r) {
  ctx.beginPath();
  ctx.moveTo(x + r, y); ctx.lineTo(x + w - r, y); ctx.quadraticCurveTo(x + w, y, x + w, y + r);
  ctx.lineTo(x + w, y + h - r); ctx.quadraticCurveTo(x + w, y + h, x + w - r, y + h);
  ctx.lineTo(x + r, y + h); ctx.quadraticCurveTo(x, y + h, x, y + h - r);
  ctx.lineTo(x, y + r); ctx.quadraticCurveTo(x, y, x + r, y); ctx.closePath();
}

const decor = {
  id: 'decor',
  afterDatasetsDraw(chart) {
    const p = chart.options.plugins.decor.panel;
    const {ctx, chartArea: a, scales: {x, y}} = chart;
    ctx.save();
    ctx.strokeStyle = '#000'; ctx.lineWidth = 0.9;
    ctx.beginPath();
    const tickX = (vals, len) => vals.forEach(v => {
      const px = Math.round(x.getPixelForValue(v)) + 0.5;
      ctx.moveTo(px, a.bottom); ctx.lineTo(px, a.bottom - len);
      ctx.moveTo(px, a.top); ctx.lineTo(px, a.top + len);
    });
    const tickY = (vals, len) => vals.forEach(v => {
      const py = Math.round(y.getPixelForValue(v)) + 0.5;
      ctx.moveTo(a.left, py); ctx.lineTo(a.left + len, py);
      ctx.moveTo(a.right, py); ctx.lineTo(a.right - len, py);
    });
    tickX(xMajorTicks, 4.5); tickX(xMinorTicks, 2.5);
    if (p.r === 0) { tickY(yMajorTicksTop, 4.5); tickY(yMinorTicksTop, 2.5); }
    else { tickY(yMajorTicks, 4.5); tickY(yMinorTicks, 2.5); }
    ctx.stroke();
    ctx.lineWidth = 1.2;
    ctx.strokeRect(a.left, a.top, a.right - a.left, a.bottom - a.top);

    ctx.font = '11px ' + FONT;
    ctx.textBaseline = 'middle'; ctx.textAlign = 'center';
    const tw = ctx.measureText(p.name).width;
    const bx = a.left + 25, by = a.top + (p.lt || 5), bw = tw + 8, bh = 17;
    roundRect(ctx, bx, by, bw, bh, 3.5);
    ctx.fillStyle = '#fff'; ctx.fill();
    ctx.lineWidth = 1; ctx.strokeStyle = '#000'; ctx.stroke();
    ctx.fillStyle = '#000';
    ctx.fillText(p.name, bx + bw / 2, by + bh / 2 + 0.5);

    if (p.legend) {
      const L = p.legend;
      ctx.font = '12px ' + FONT;
      const mw = Math.max(...L.items.map(it => ctx.measureText(it[2]).width));
      const w = L.ts + mw + 6;
      const h = L.items.length === 2 ? 38 : 21;
      const lx = (a.left + a.right) / 2 - w / 2, ly = a.bottom - 6 - h;
      roundRect(ctx, lx, ly, w, h, 3);
      ctx.fillStyle = 'rgba(255,255,255,0.85)'; ctx.fill();
      ctx.strokeStyle = '#cccccc'; ctx.lineWidth = 1; ctx.stroke();
      L.items.forEach((it, i) => {
        const cy = ly + (L.items.length === 2 ? 9.5 + 17 * i : 10.5);
        ctx.beginPath();
        ctx.strokeStyle = it[0]; ctx.lineWidth = 2;
        ctx.setLineDash(it[1] ? [2, 3.3] : []);
        ctx.moveTo(lx + L.hs, cy); ctx.lineTo(lx + L.he, cy); ctx.stroke();
        ctx.setLineDash([]);
        ctx.fillStyle = '#000'; ctx.textAlign = 'left'; ctx.textBaseline = 'middle';
        ctx.fillText(it[2], lx + L.ts, cy + 0.5);
      });
    }

    if (p.note) {
      ctx.font = '11.5px ' + FONT;
      const t = 'Different Axis Scale';
      const w = ctx.measureText(t).width + 8;
      const nx = a.left + 34, ny = a.top + 129, nh = 17;
      roundRect(ctx, nx, ny, w, nh, 3.5);
      ctx.fillStyle = '#fff'; ctx.fill();
      ctx.strokeStyle = '#000'; ctx.lineWidth = 1; ctx.stroke();
      ctx.fillStyle = '#000'; ctx.textAlign = 'center'; ctx.textBaseline = 'middle';
      ctx.fillText(t, nx + w / 2, ny + nh / 2 + 0.5);
      const cy = ny + nh / 2, tip = a.left + 4, neck = a.left + 15, tail = a.left + 29;
      ctx.beginPath();
      ctx.moveTo(tip, cy); ctx.lineTo(neck, cy - 6); ctx.lineTo(neck, cy - 2.5); ctx.lineTo(tail, cy - 2.5);
      ctx.lineTo(tail, cy + 2.5); ctx.lineTo(neck, cy + 2.5); ctx.lineTo(neck, cy + 6); ctx.closePath();
      ctx.fillStyle = '#2f7fc1'; ctx.fill();
      ctx.strokeStyle = '#1b3f66'; ctx.lineWidth = 0.8; ctx.stroke();
    }
    ctx.restore();
  }
};

function buildDatasets(p) {
  const ds = [];
  const smooth = p.r < 2;
  function band(arr, col) {
    const lowIdx = ds.length;
    ds.push({data: arr.map(q => ({x: q[0], y: q[1]})), borderColor: 'transparent', borderWidth: 0, pointRadius: 0, fill: false, tension: 0});
    ds.push({data: arr.map(q => ({x: q[0], y: q[2]})), borderColor: 'transparent', borderWidth: 0, pointRadius: 0, tension: 0,
      backgroundColor: col, fill: {target: lowIdx, above: col, below: col}});
  }
  function line(arr, col, w, dash) {
    ds.push({data: arr.map(q => ({x: q[0], y: q[1]})), borderColor: col, borderWidth: w, borderDash: dash || [],
      pointRadius: 0, fill: false, tension: 0, cubicInterpolationMode: smooth ? 'monotone' : 'default'});
  }
  if (p.gband) band(p.gband, G_BAND);
  if (p.rband) band(p.rband, R_BAND);
  line(p.green, C_GR, 1.7);
  line(p.orange, C_OR, 2);
  line(p.red, C_RD, 1.3);
  line(p.blue, C_BL, 2);
  if (p.gdot) line(p.gdot, C_GR, 2.2, [2, 3.3]);
  if (p.bdot) line(p.bdot, C_BL, 2.2, [2, 3.3]);
  ds.forEach((d, i) => { d.order = -i; });
  return ds;
}

panels.forEach(p => {
  const [x0, x1] = COLS[p.c], [y0, y1] = ROWS[p.r];
  const L = p.c === 0 ? x0 : 12, R = 6, T = 6, B = p.r === 3 ? 689 - y1 : 6;
  const W = (x1 - x0) + L + R, H = (y1 - y0) + T + B;
  const cv = document.createElement('canvas');
  cv.width = W; cv.height = H;
  cv.style.left = (x0 - L) + 'px'; cv.style.top = (y0 - T) + 'px';
  cv.style.width = W + 'px'; cv.style.height = H + 'px';
  document.body.appendChild(cv);
  const top = p.r === 0;
  new Chart(cv, {
    type: 'line',
    data: {datasets: buildDatasets(p)},
    plugins: [decor],
    options: {
      responsive: false, animation: false, devicePixelRatio: window.devicePixelRatio || 1,
      layout: {autoPadding: false, padding: {left: 0, right: R, top: T, bottom: 0}},
      plugins: {legend: {display: false}, tooltip: {enabled: false}, decor: {panel: p}},
      scales: {
        x: {
          type: 'linear', min: 0, max: 0.995,
          afterBuildTicks: s => { s.ticks = xMajorTicks.map(v => ({value: v})); },
          ticks: {display: p.r === 3, autoSkip: false, maxRotation: 0, padding: 3, color: '#000',
            font: {family: FONT, size: 12.5}, callback: v => Number(v).toFixed(1)},
          grid: {display: false, drawTicks: false}, border: {display: false},
          title: {display: p.r === 3, text: 'Minimum Membership Probability', color: '#000',
            font: {family: FONT, size: 12.5}, padding: {top: 0, bottom: 1.5}},
          afterFit: s => { s.height = B; s.paddingLeft = 0; s.paddingRight = 0; }
        },
        y: {
          type: 'linear', min: top ? 0.985 : 0, max: 1,
          afterBuildTicks: s => { s.ticks = (top ? yMajorTicksTop : yMajorTicks).map(v => ({value: v})); },
          ticks: {display: p.c === 0, autoSkip: false, padding: 3, color: '#000',
            font: {family: FONT, size: 12.5}, callback: v => Number(v).toFixed(top ? 4 : 1)},
          grid: {display: false, drawTicks: false}, border: {display: false},
          title: {display: p.c === 0, text: 'Purity,Completeness', color: '#000',
            font: {family: FONT, size: 12}, padding: {top: top ? 0 : 15.5, bottom: 0}},
          afterFit: s => { s.width = L; s.paddingTop = 0; s.paddingBottom = 0; }
        }
      }
    }
  });
});
</script>
</body></html>
